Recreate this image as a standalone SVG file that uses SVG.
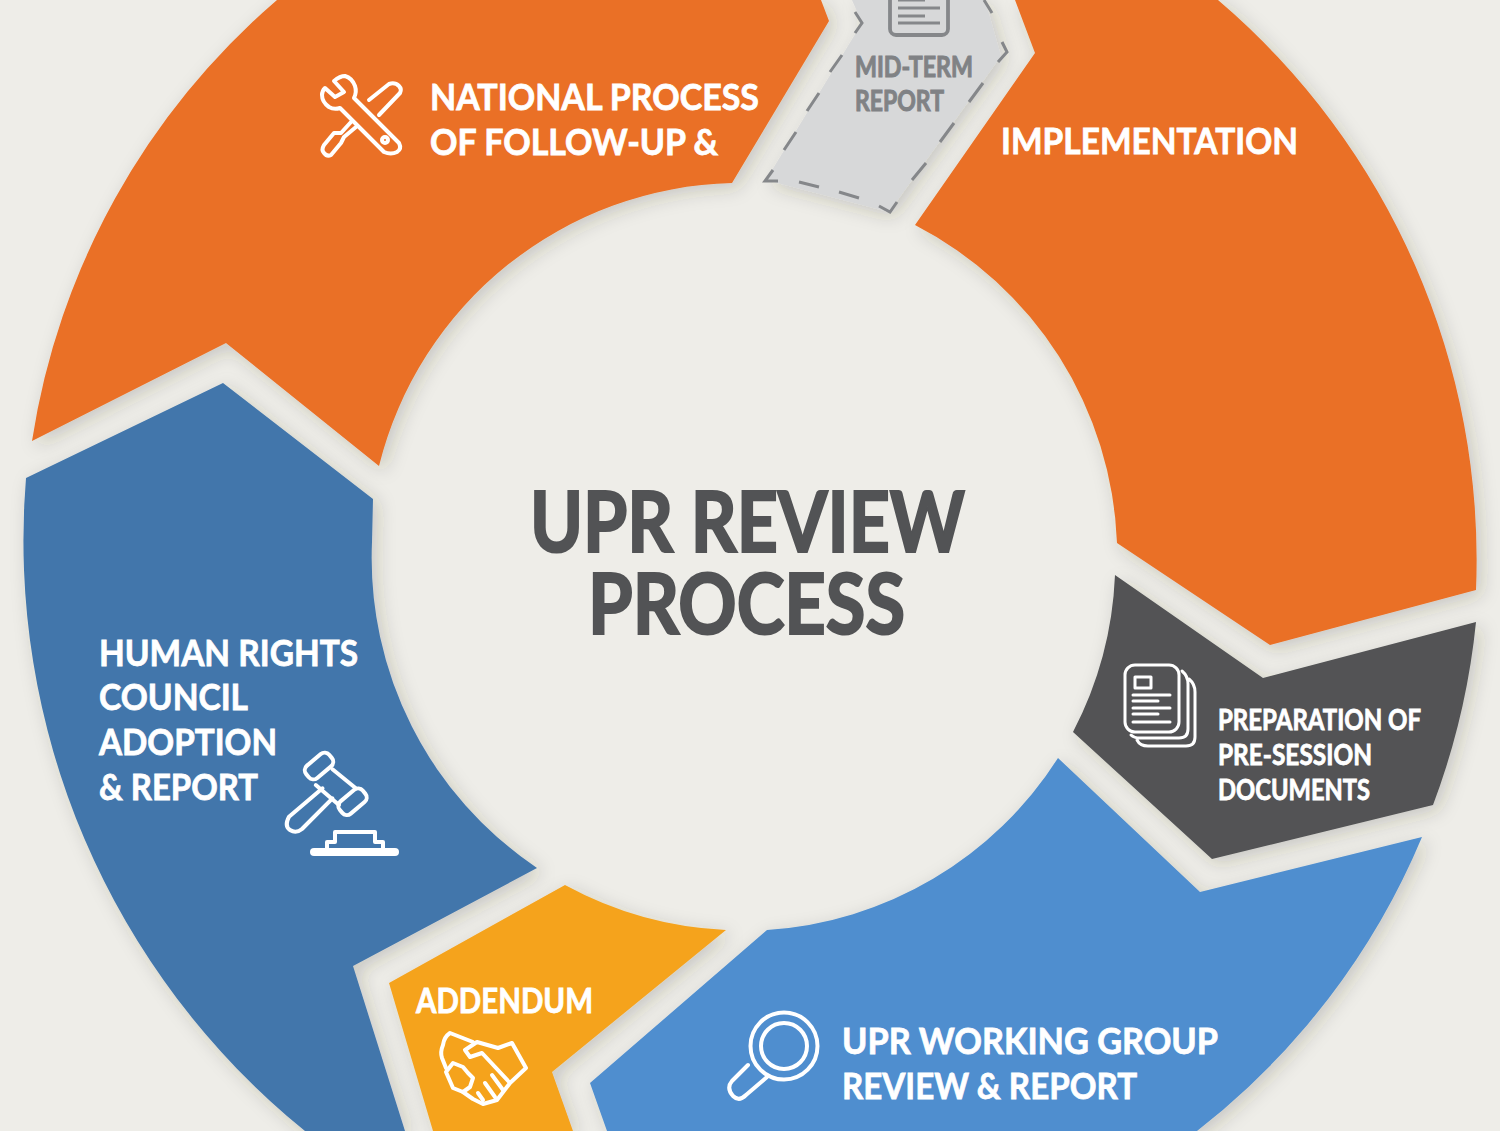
<svg xmlns="http://www.w3.org/2000/svg" width="1500" height="1131" viewBox="0 0 1500 1131">
<style>
.t{font-family:"Lato","Liberation Sans",sans-serif;font-weight:700;fill:#fff;stroke:#fff;stroke-width:.8;paint-order:stroke}
.g{fill:#808285;stroke:#808285;stroke-width:1}
.c{fill:#525355;stroke:#525355;stroke-width:2.2}
.seg{filter:url(#sh)}
.ic{fill:none;stroke:#fff;stroke-width:4;stroke-linejoin:round;stroke-linecap:round}
.dash{fill:none;stroke:#85878a;stroke-width:3;stroke-linejoin:miter}
</style>
<defs>
<filter id="sh" x="-15%" y="-15%" width="130%" height="130%"><feDropShadow dx="5" dy="5" stdDeviation="9" flood-color="#3a3020" flood-opacity="0.2"/></filter>
</defs>
<rect width="1500" height="1131" fill="#eeede8"/>
<g id="national-process">
<path class="seg" fill="#ea7025" d="M32,441A727,727 0 0 1 277,0L821,0L829,21L732,183A373,373 0 0 0 379,466L226,343Z"/>
<g class="ic">
<path d="M334,81Q340,76 345,76Q352,78 355,86Q357,92 354,98L399,143Q402,149 397,152Q391,155 384,152L340,108Q334,110 329,107Q322,102 322,95Q322,91 325,88L335,97L344,92Z"/>
<path d="M369,100L389,84Q395,82 399,86Q402,89 400,93L379,115M351,122L341,133L334,133L324,145Q321,150 324,153Q327,157 331,155L341,143L344,137L356,127"/>
<circle cx="385" cy="140" r="3"/>
</g>
<text class="t" x="430" y="110" font-size="37" textLength="329" lengthAdjust="spacingAndGlyphs">NATIONAL PROCESS</text>
<text class="t" x="430" y="155" font-size="37" textLength="288" lengthAdjust="spacingAndGlyphs">OF FOLLOW-UP &amp;</text>
</g>
<g id="mid-term-report">
<path class="seg" fill="#d7d8d9" d="M852,0L862,23L766,180L889,212L1001,56L985,0Z"/>
<path class="dash" d="M855,12L862,23L855,33M842,55L830,72M819,93L807,111M796,132L784,150M773,170L765,181L778,181M799,182L819,187M839,192L859,198M879,206L890,212L897,202M912,180L926,163M940,142L954,123M969,102L983,83M998,62L1007,52L1002,42M992,13L984,0"/>
<rect x="890" y="-20" width="58" height="55" rx="6" fill="none" stroke="#85878a" stroke-width="3.8"/>
<path fill="none" stroke="#85878a" stroke-width="3.2" d="M898,0H925M898,8H940M898,16H925M898,23H940"/>
<text class="t g" x="855" y="77" font-size="28" textLength="118" lengthAdjust="spacingAndGlyphs">MID-TERM</text>
<text class="t g" x="855" y="111" font-size="28" textLength="89" lengthAdjust="spacingAndGlyphs">REPORT</text>
</g>
<g id="implementation">
<path class="seg" fill="#ea7025" d="M1015,0L1035,53L915,225A373,373 0 0 1 1117,543L1270,645L1476,590A735,735 0 0 0 1218,0Z"/>
<text class="t" x="1001" y="154" font-size="37" textLength="297" lengthAdjust="spacingAndGlyphs">IMPLEMENTATION</text>
</g>
<g id="pre-session">
<path class="seg" fill="#525355" d="M1115,575L1263,678L1476,622A727,727 0 0 1 1433,805L1212,859L1073,732A373,373 0 0 0 1115,575Z"/>
<g class="ic" style="stroke-width:3">
<rect x="1125" y="665" width="54" height="67" rx="10"/>
<path d="M1182,671Q1188,676 1188,684V729Q1188,738 1179,738H1140Q1134,738 1131,735M1189,679Q1195,684 1195,692V737Q1195,746 1186,746H1148Q1140,746 1137,740"/>
<rect x="1135" y="677" width="16" height="11"/>
<path d="M1133,695H1170M1133,701H1158M1133,708H1170M1133,714H1158M1133,722H1170"/>
</g>
<text class="t" x="1218" y="730" font-size="28" textLength="203" lengthAdjust="spacingAndGlyphs">PREPARATION OF</text>
<text class="t" x="1218" y="765" font-size="28" textLength="154" lengthAdjust="spacingAndGlyphs">PRE-SESSION</text>
<text class="t" x="1218" y="800" font-size="28" textLength="152" lengthAdjust="spacingAndGlyphs">DOCUMENTS</text>
</g>
<g id="working-group">
<path class="seg" fill="#4f8ecf" d="M1058,758L1200,892L1422,837A727,727 0 0 1 1197,1131L607,1131L590,1083L767,930A373,373 0 0 0 1058,758Z"/>
<g class="ic">
<circle cx="784" cy="1046" r="33.5"/>
<circle cx="784" cy="1046" r="23"/>
<path d="M748,1065L732,1081Q726,1088 733,1096Q739,1102 746,1095L767,1077"/>
</g>
<text class="t" x="842" y="1054" font-size="37" textLength="376" lengthAdjust="spacingAndGlyphs">UPR WORKING GROUP</text>
<text class="t" x="842" y="1099" font-size="37" textLength="295" lengthAdjust="spacingAndGlyphs">REVIEW &amp; REPORT</text>
</g>
<g id="addendum">
<path class="seg" fill="#f5a31f" d="M389,983L565,885A373,373 0 0 0 726,930L552,1072L573,1131L433,1131Z"/>
<g class="ic">
<path d="M473,1042L450,1033Q444,1037 443,1045Q440,1052 442,1058L446,1068"/>
<path d="M446,1072L453,1063L463,1067L468,1073L473,1078L470,1087L463,1092L453,1088Z"/>
<path d="M463,1092L473,1099L483,1104L497,1100L510,1083L526,1068L512,1043L498,1048L477,1042L465,1050L470,1057L482,1053L510,1083"/>
<path d="M492,1075L503,1090M485,1083L495,1097M478,1093L483,1100"/>
</g>
<text class="t" x="416" y="1013" font-size="34" textLength="177" lengthAdjust="spacingAndGlyphs">ADDENDUM</text>
</g>
<g id="human-rights-council">
<path class="seg" fill="#4276ab" d="M26,478L223,383L373,499L372,542A373,373 0 0 0 537,868L353,966L405,1131L305,1131A760,760 0 0 1 26,478Z"/>
<g class="ic">
<rect x="-15" y="-8" width="30" height="16" rx="6" transform="translate(319,766) rotate(-40)"/>
<rect x="-15" y="-8" width="30" height="16" rx="6" transform="translate(352.5,801.7) rotate(-40)"/>
<path d="M332.5,769.3L355.8,788.3M315.8,785L339,805M322.5,788.3L289,816.7Q284,826 290,830Q296,834 302,829L332.5,798.3"/>
<path d="M327,848V842H335V832H375V842H383V848"/>
<path d="M314,852H395" style="stroke-width:8"/>
</g>
<text class="t" x="99" y="666" font-size="37" textLength="259" lengthAdjust="spacingAndGlyphs">HUMAN RIGHTS</text>
<text class="t" x="99" y="710" font-size="37" textLength="149" lengthAdjust="spacingAndGlyphs">COUNCIL</text>
<text class="t" x="99" y="755" font-size="37" textLength="178" lengthAdjust="spacingAndGlyphs">ADOPTION</text>
<text class="t" x="99" y="800" font-size="37" textLength="159" lengthAdjust="spacingAndGlyphs">&amp; REPORT</text>
</g>
<g id="center-title">
<text class="t c" x="530" y="552" font-size="84" textLength="435" lengthAdjust="spacingAndGlyphs">UPR REVIEW</text>
<text class="t c" x="588" y="634" font-size="84" textLength="317" lengthAdjust="spacingAndGlyphs">PROCESS</text>
</g>
</svg>
